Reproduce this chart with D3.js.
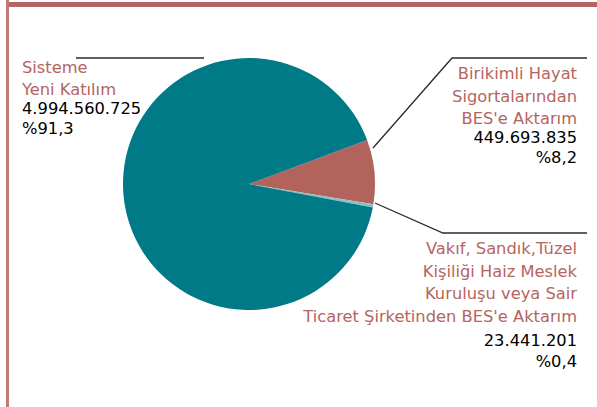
<!DOCTYPE html>
<html><head><meta charset="utf-8">
<script src="https://cdn.jsdelivr.net/npm/d3@7"></script>
<style>html,body{margin:0;padding:0;background:#fff;}svg{display:block;}</style>
</head><body>
<script>
const categories = ["Sisteme Yeni Katılım", "Birikimli Hayat Sigortalarından BES'e Aktarım", "Vakıf, Sandık,Tüzel Kişiliği Haiz Meslek Kuruluşu veya Sair Ticaret Şirketinden BES'e Aktarım"];
const values = [4994560725, 449693835, 23441201];
const valueLabels = ["4.994.560.725", "449.693.835", "23.441.201"];
const percentLabels = ["%91,3", "%8,2", "%0,4"];
const nameLines = [["Sisteme", "Yeni Katılım"], ["Birikimli Hayat", "Sigortalarından", "BES'e Aktarım"], ["Vakıf, Sandık,Tüzel", "Kişiliği Haiz Meslek", "Kuruluşu veya Sair", "Ticaret Şirketinden BES'e Aktarım"]];

const W = 597, H = 407;
const accent = "#b5655f";
const colors = ["#007a87", "#b2635c", "#8fbfc4"];
const font = "'DejaVu Sans', sans-serif";

const svg = d3.select("body").append("svg").attr("width", W).attr("height", H);

// frame
svg.append("rect").attr("x", 9).attr("y", 2).attr("width", W - 9).attr("height", 5).attr("fill", accent);
svg.append("rect").attr("x", 6).attr("y", 0).attr("width", 3).attr("height", H).attr("fill", "#c07a74");

const cx = 249, cy = 184, R = 126;
const a0 = 69.6 * Math.PI / 180;
const order = [1, 2, 0];
const pie = d3.pie().value(d => values[d]).sort(null)
  .startAngle(a0).endAngle(a0 + 2 * Math.PI);
const arcs = pie(order);
const arc = d3.arc().innerRadius(0).outerRadius(R);
const g = svg.append("g").attr("transform", `translate(${cx},${cy})`);
g.selectAll("path").data(arcs).join("path")
  .attr("d", arc).attr("fill", d => colors[d.data]);

// leader lines
const line = d3.line();
const leaders = [
  [[76, 58], [204, 58]],
  [[373, 148], [452, 58], [587, 58]],
  [[375, 203], [443, 233], [587, 233]]
];
svg.selectAll("path.leader").data(leaders).join("path").attr("class", "leader")
  .attr("d", line).attr("fill", "none").attr("stroke", "#2a2a2a").attr("stroke-width", 1.3);

// labels
const labelPos = [
  {x: 22, anchor: "start", names: [73, 95], nums: [114, 134]},
  {x: 577, anchor: "end", names: [79, 102, 124], nums: [143, 163]},
  {x: 577, anchor: "end", names: [254, 277, 299, 322], nums: [346, 367]}
];
labelPos.forEach((p, i) => {
  const t = svg.append("g").attr("font-family", font).attr("font-size", 16.3).attr("text-anchor", p.anchor);
  nameLines[i].forEach((s, j) => t.append("text").attr("x", p.x).attr("y", p.names[j]).attr("fill", accent).text(s));
  t.append("text").attr("x", p.x).attr("y", p.nums[0]).attr("fill", "#000").text(valueLabels[i]);
  t.append("text").attr("x", p.x).attr("y", p.nums[1]).attr("fill", "#000").text(percentLabels[i]);
});
</script>
</body></html>
